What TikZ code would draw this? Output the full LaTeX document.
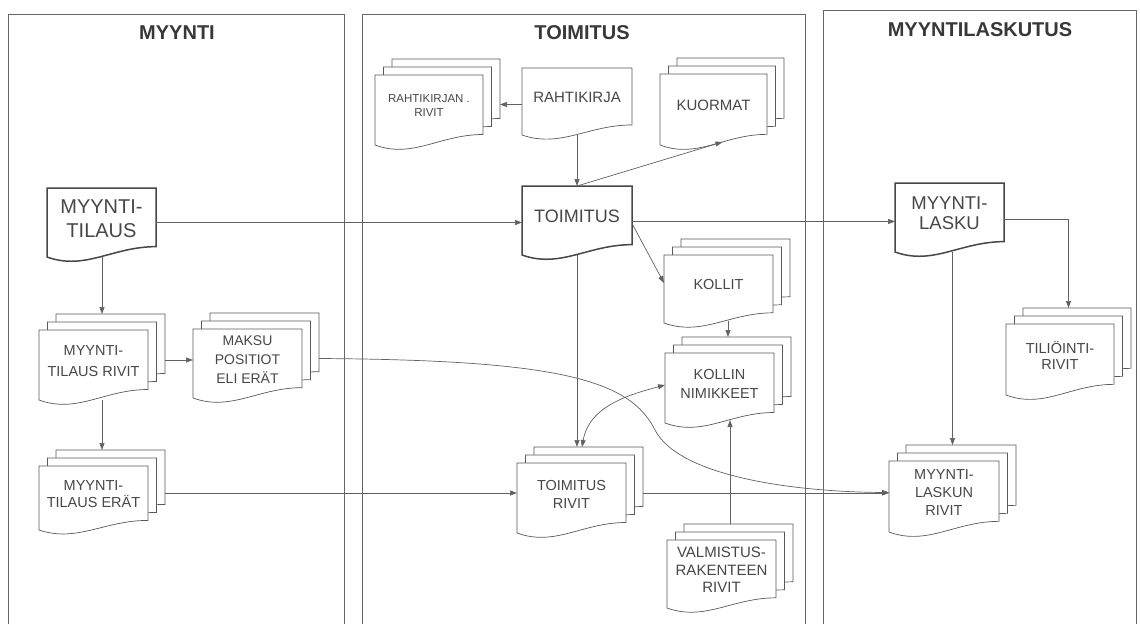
\documentclass[tikz,border=0pt]{standalone}
\usepackage{fontspec}
\setmainfont{Liberation Sans}
\usetikzlibrary{arrows.meta,calc}

\tikzset{
  docline/.style={draw=black!65, line width=0.7pt, fill=white},
  docthick/.style={draw=black!72, line width=1.5pt, fill=white},
  box/.style={inner sep=0pt, outer sep=0pt},
  doctext/.style={text=black!72, align=center, inner sep=0pt},
  conn/.style={draw=black!62, line width=0.7pt, -{Triangle[length=7pt,width=5pt]}},
  conn2/.style={draw=black!62, line width=0.7pt, {Triangle[length=7pt,width=5pt]}-{Triangle[length=7pt,width=5pt]}},
  panel/.style={draw=black!60, line width=0.8pt},
  title/.style={text=black!78, inner sep=0pt, font=\bfseries\fontsize{20}{24}\selectfont},
}

% document outline: style, L, R, T, B (pixel coordinates, y downwards)
\newcommand{\docshape}[5]{%
  \pgfmathsetmacro\dW{#3-#2}%
  \pgfmathsetmacro\dH{#5-#4}%
  \pgfmathsetmacro\dRB{#5-0.15*\dH}%
  \pgfmathsetmacro\dCa{#2+0.6*\dW}%
  \pgfmathsetmacro\dCb{#2+0.35*\dW}%
  \pgfmathsetmacro\dCy{#5+0.2*\dH}%
  \path[#1] (#2,#4) -- (#3,#4) -- (#3,\dRB) .. controls (\dCa,\dRB) and (\dCb,\dCy) .. (#2,#5) -- cycle;
}
% single document: name, style, L, R, T, B, font, text
\newcommand{\sdoc}[8]{%
  \docshape{#2}{#3}{#4}{#5}{#6}%
  \pgfmathsetmacro\nW{#4-#3}%
  \pgfmathsetmacro\nH{#6-#5}%
  \node[box, minimum width=\nW pt, minimum height=\nH pt] (#1) at ({(#3+#4)/2},{(#5+#6)/2}) {};
  \node[doctext, font=#7] (#1-t) at ([yshift=4pt]#1.center) {#8};
}
% multi document: name, L, R, T, B, font, text
\newcommand{\mdoc}[7]{%
  \begin{scope}[xshift=17pt,yshift=16pt]\docshape{docline}{#2}{#3}{#4}{#5}\end{scope}
  \begin{scope}[xshift=8.5pt,yshift=8pt]\docshape{docline}{#2}{#3}{#4}{#5}\end{scope}
  \docshape{docline}{#2}{#3}{#4}{#5}%
  \pgfmathsetmacro\nW{#3-#2}%
  \pgfmathsetmacro\nH{#5-#4}%
  \node[box, minimum width=\nW pt, minimum height=\nH pt] (#1) at ({(#2+#3)/2},{(#4+#5)/2}) {};
  \node[doctext, font=#6] (#1-t) at ([yshift=4pt]#1.center) {#7};
  \coordinate (#1-bt) at ({(#2+#3)/2+8.5},{#4-16});
  \coordinate (#1-br) at ({#3+17},{(#4+#5)/2-5});
}

\begin{document}
\begin{tikzpicture}[x=1pt,y=-1pt]
\useasboundingbox[fill=white] (0,0) rectangle (1140,624);

% panels
\draw[panel] (8,624) -- (8,14) -- (344,14) -- (344,624);
\draw[panel] (362,624) -- (362,14) -- (805,14) -- (805,624);
\draw[panel] (823,624) -- (823,10) -- (1136,10) -- (1136,624);
\node[title] (t1) at (177,33) {MYYNTI};
\node[title] (t2) at (582,33) {TOIMITUS};
\node[title] (t3) at (980,30) {MYYNTILASKUTUS};

% MYYNTI
\sdoc{tilaus}{docthick}{47}{156}{188}{257}{\fontsize{20}{24}\selectfont}{MYYNTI-\\TILAUS}
\mdoc{tilrivit}{39}{148}{330}{400}{\fontsize{14.5}{21}\selectfont}{MYYNTI-\\TILAUS RIVIT}
\mdoc{maksu}{193}{302}{329}{398}{\fontsize{14}{18.7}\selectfont}{MAKSU\\POSITIOT\\ELI ERÄT}
\mdoc{tilerat}{39}{148}{466}{530}{\fontsize{14.5}{17.5}\selectfont}{MYYNTI-\\TILAUS ERÄT}

% TOIMITUS
\mdoc{rahtirivit}{375}{483}{75}{145}{\fontsize{11.5}{14}\selectfont}{RAHTIKIRJAN .\\RIVIT}
\sdoc{rahti}{docline}{522}{632}{68}{135}{\fontsize{15}{18}\selectfont}{RAHTIKIRJA}
\mdoc{kuormat}{660}{767}{74}{145}{\fontsize{15}{18}\selectfont}{KUORMAT}
\sdoc{toim}{docthick}{522}{632}{186}{255}{\fontsize{18}{22}\selectfont}{TOIMITUS}
\mdoc{kollit}{664}{773}{255}{323}{\fontsize{14.5}{18}\selectfont}{KOLLIT}
\mdoc{nimik}{665}{774}{353}{423}{\fontsize{14.5}{18.3}\selectfont}{KOLLIN\\NIMIKKEET}
\mdoc{toimrivit}{517}{626}{463}{533}{\fontsize{14.5}{18}\selectfont}{TOIMITUS\\RIVIT}
\mdoc{valm}{667}{776}{540}{608}{\fontsize{15}{17.5}\selectfont}{VALMISTUS-\\RAKENTEEN\\RIVIT}

% MYYNTILASKUTUS
\sdoc{lasku}{docthick}{895}{1004}{183}{252}{\fontsize{18.5}{20}\selectfont}{MYYNTI-\\LASKU}
\mdoc{tiliointi}{1006}{1114}{324}{395}{\fontsize{14.5}{16.7}\selectfont}{TILIÖINTI-\\RIVIT}
\mdoc{laskurivit}{889}{999}{461}{532}{\fontsize{14.5}{18.3}\selectfont}{MYYNTI-\\LASKUN\\RIVIT}

% connectors
\draw[conn] (tilaus.east) -- (tilaus.east -| toim.west);
\draw[conn] ([yshift=-1pt]toim.east) -- ([yshift=-1pt]toim.east -| lasku.west);
\draw[conn] (tilaus.south -| tilrivit-bt) -- (tilrivit-bt);
\draw[conn] (tilrivit-br) -- (tilrivit-br -| maksu.west);
\draw[conn] (tilrivit.south -| tilerat-bt) -- (tilerat-bt);
\draw[conn] (tilerat-br) -- (tilerat-br -| toimrivit.west);
\coordinate (bend) at (655,430);
\draw[conn] (maksu-br) .. controls (560,360) and (630,380) .. (bend) .. controls (680,478) and (800,492) .. ([yshift=4pt]laskurivit.west);
\draw[conn] (toimrivit-br) -- (toimrivit-br -| laskurivit.west);
\draw[conn] ([yshift=-3pt]rahti.west) -- ([yshift=-3pt]rahti.west -| rahtirivit-br);
\draw[conn] (rahti.south) -- (toim.north);
\draw[conn] (toim.north) -- ([xshift=9pt,yshift=3pt]kuormat.south);
\draw[conn] ([yshift=-3pt]toim.east) -- ([yshift=6pt]kollit.west);
\draw[conn] (toim.south) -- (toim.south |- toimrivit-bt);
\draw[conn] ($(kollit.south -| nimik-bt)+(0,-2)$) -- (nimik-bt);
\draw[conn2] ([xshift=5pt]toim.south |- toimrivit-bt) to[out=80,in=195] ([yshift=3pt]nimik.west);
\draw[conn] (valm-bt) -- ($(valm-bt |- nimik.south)+(0,-3)$);
\draw[conn] ([yshift=-2pt]lasku.east) -| (tiliointi-bt);
\draw[conn] (lasku.south -| laskurivit-bt) -- (laskurivit-bt);
\end{tikzpicture}
\end{document}
